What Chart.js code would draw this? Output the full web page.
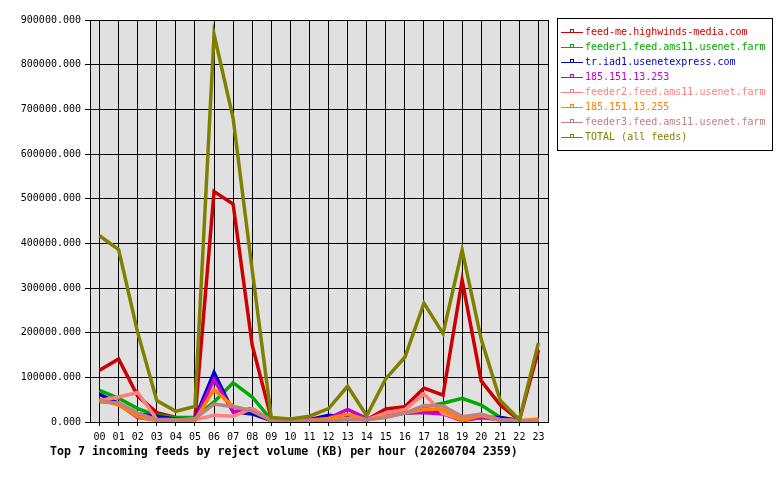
<!DOCTYPE html>
<html>
<head>
<meta charset="utf-8">
<script src="https://cdn.jsdelivr.net/npm/chart.js@4/dist/chart.umd.min.js"></script>
<style>
  body { margin: 0; background: #fff; }
</style>
</head>
<body>
<canvas id="feedChart" width="780" height="480"></canvas>
<script>
// hours of the day
const hours = ['00','01','02','03','04','05','06','07','08','09','10','11',
               '12','13','14','15','16','17','18','19','20','21','22','23'];

const feedNames = [
  'feed-me.highwinds-media.com',
  'feeder1.feed.ams11.usenet.farm',
  'tr.iad1.usenetexpress.com',
  '185.151.13.253',
  'feeder2.feed.ams11.usenet.farm',
  '185.151.13.255',
  'feeder3.feed.ams11.usenet.farm',
  'TOTAL (all feeds)'
];
const feedColors = ['#cc0000', '#00aa00', '#0000cc', '#cc00cc',
                    '#ff8080', '#ff8000', '#c08080', '#808000'];

// reject volume (KB) per hour
const highwinds = [116000, 141000, 58000, 21000, 10000, 8000, 516000, 488000, 172000, 8000, 5000, 5000,
                   8000, 8000, 5000, 29000, 34000, 76000, 60000, 318000, 92000, 38000, 4000, 161000];
const feeder1 =   [71000, 53000, 30000, 15000, 10000, 10000, 45000, 88000, 56000, 5000, 3000, 3000,
                   3000, 12000, 5000, 12000, 20000, 34000, 42000, 53000, 38000, 10000, 3000, 3000];
const iad1 =      [62000, 42000, 18000, 13000, 6000, 8000, 111000, 23000, 18000, 3000, 3000, 5000,
                   15000, 12000, 5000, 15000, 20000, 22000, 20000, 5000, 10000, 10000, 3000, 3000];
const ip253 =     [50000, 40000, 10000, 5000, 3000, 5000, 95000, 23000, 30000, 3000, 3000, 5000,
                   8000, 28000, 8000, 15000, 22000, 21000, 18000, 3000, 10000, 5000, 3000, 3000];
const feeder2 =   [48000, 56000, 66000, 6000, 5000, 5000, 15000, 13000, 30000, 3000, 3000, 4000,
                   5000, 8000, 5000, 20000, 28000, 63000, 19000, 5000, 15000, 5000, 3000, 5000];
const ip255 =     [50000, 38000, 12000, 3000, 2000, 3000, 73000, 35000, 25000, 3000, 3000, 3000,
                   8000, 17000, 5000, 12000, 20000, 28000, 28000, 3000, 15000, 3000, 3000, 7000];
const feeder3 =   [45000, 43000, 20000, 5000, 5000, 8000, 40000, 34000, 25000, 5000, 3000, 3000,
                   3000, 5000, 5000, 10000, 20000, 37000, 36000, 12000, 18000, 5000, 3000, 3000];
const total =     [417000, 386000, 200000, 48000, 24000, 35000, 868000, 680000, 340000, 10000, 7000, 13000,
                   30000, 80000, 14000, 97000, 145000, 266000, 198000, 385000, 185000, 48000, 5000, 177000];

const yTicks = [0, 100000, 200000, 300000, 400000, 500000, 600000, 700000, 800000, 900000];

const seriesData = [highwinds, feeder1, iad1, ip253, feeder2, ip255, feeder3, total];
const monoFont = '"DejaVu Sans Mono", monospace';

// plot background, right border, legend box and title
const decorPlugin = {
  id: 'decor',
  beforeDraw(chart) {
    const a = chart.chartArea, ctx = chart.ctx;
    ctx.save();
    ctx.fillStyle = '#e0e0e0';
    ctx.fillRect(a.left, a.top, a.right - a.left, a.bottom - a.top);
    ctx.restore();
  },
  afterDraw(chart) {
    const a = chart.chartArea, ctx = chart.ctx;
    ctx.save();
    ctx.strokeStyle = '#000';
    ctx.lineWidth = 1;
    ctx.beginPath();
    ctx.moveTo(a.right + 0.5, a.top);
    ctx.lineTo(a.right + 0.5, a.bottom);
    ctx.stroke();

    // legend
    ctx.strokeRect(557.5, 18.5, 215, 132);
    ctx.font = '10px ' + monoFont;
    ctx.textBaseline = 'middle';
    chart.data.datasets.forEach(function(ds, i) {
      const y = 32.5 + i * 15;
      ctx.strokeStyle = ds.borderColor;
      ctx.beginPath();
      ctx.moveTo(561, y);
      ctx.lineTo(583, y);
      ctx.stroke();
      ctx.strokeRect(570.5, y - 3, 3, 3);
      ctx.fillStyle = ds.borderColor;
      ctx.fillText(ds.label, 585, y);
    });

    // title
    ctx.fillStyle = '#000';
    ctx.font = 'bold 11.6px ' + monoFont;
    ctx.textBaseline = 'middle';
    ctx.fillText('Top 7 incoming feeds by reject volume (KB) per hour (20260704 2359)', 50, 452);
    ctx.restore();
  }
};

let ctx = document.getElementById('feedChart').getContext('2d');
let feedChart = new Chart(ctx, {
  type: 'line',
  data: {
    labels: hours,
    datasets: seriesData.map(function(vals, i) {
      return {
        label: feedNames[i],
        data: vals,
        borderColor: feedColors[i],
        backgroundColor: feedColors[i],
        borderWidth: 3.5,
        pointRadius: 0,
        tension: 0,
        fill: false,
        order: seriesData.length - i
      };
    })
  },
  options: {
    responsive: false,
    animation: false,
    devicePixelRatio: 1,
    layout: { padding: { left: 0, right: 232, top: 20, bottom: 0 } },
    plugins: {
      legend: { display: false },
      title: { display: false },
      tooltip: { enabled: false }
    },
    scales: {
      x: {
        offset: true,
        grid: { color: '#000', lineWidth: 1, offset: false, tickLength: 4 },
        border: { color: '#000', width: 1 },
        ticks: { color: '#000', font: { family: monoFont, size: 10 }, padding: 5, maxRotation: 0, autoSkip: false },
        afterFit(scale) { scale.height = 58; }
      },
      y: {
        min: 0,
        max: 900000,
        afterBuildTicks(scale) { scale.ticks = yTicks.map(v => ({ value: v })); },
        grid: { color: '#000', lineWidth: 1, tickLength: 5 },
        border: { color: '#000', width: 1 },
        ticks: {
          color: '#000',
          font: { family: monoFont, size: 10 },
          padding: 4,
          callback: v => v.toFixed(3)
        },
        afterFit(scale) { scale.width = 90; }
      }
    }
  },
  plugins: [decorPlugin]
});
</script>
</body>
</html>
